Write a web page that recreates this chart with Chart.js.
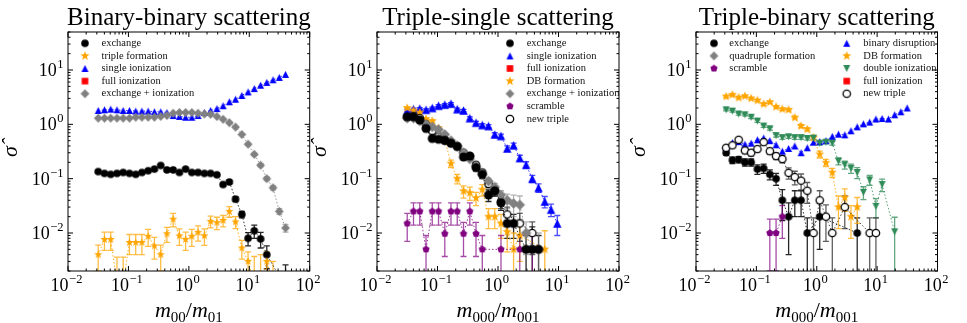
<!DOCTYPE html>
<html>
<head>
<meta charset="utf-8">
<title>Scattering cross sections</title>
<script src="https://cdn.jsdelivr.net/npm/chart.js@4.4.1/dist/chart.umd.min.js"></script>
<style>
  html, body { margin: 0; padding: 0; background: #fff; }
  #wrap { position: relative; width: 967px; height: 323px; overflow: hidden; }
  canvas { position: absolute; top: 0; }
</style>
</head>
<body>
<div id="wrap">
  <canvas id="bb" width="325" height="323" style="left:0px"></canvas>
  <canvas id="ts" width="325" height="323" style="left:310px"></canvas>
  <canvas id="tb" width="337" height="323" style="left:630px"></canvas>
</div>
<script>
const SERIF = "'Liberation Serif', 'DejaVu Serif', serif";

// mass ratio grid shared by every series
const massRatio = [0.0316, 0.0401, 0.0509, 0.0646, 0.0819, 0.104, 0.132, 0.167, 0.212, 0.269,
  0.342, 0.433, 0.550, 0.697, 0.884, 1.12, 1.42, 1.81, 2.29, 2.91,
  3.69, 4.68, 5.93, 7.53, 9.55, 12.1, 15.4, 19.5, 24.7, 31.4, 39.8];
const xDecades = [-2, -1, 0, 1, 2];
const yDecades = [-2, -1, 0, 1];

// binary-binary
const bbExchange = [0.135, 0.125, 0.12, 0.125, 0.13, 0.125, 0.12, 0.13, 0.14, 0.15, 0.175, 0.145, 0.145, 0.13, 0.15, 0.13, 0.13, 0.125, 0.125, 0.118, 0.078, 0.087, 0.042, 0.022, 0.008, 0.011, 0.0078, 0.004, null, null, 0.001];
const bbExchangeErr = [0.006, 0.006, 0.006, 0.006, 0.006, 0.006, 0.006, 0.006, 0.006, 0.007, 0.008, 0.007, 0.007, 0.006, 0.007, 0.006, 0.006, 0.006, 0.006, 0.006, 0.005, 0.006, 0.004, 0.003, 0.0022, 0.003, 0.0025, 0.0018, null, null, 0.0016];
const bbTriple = [0.004, 0.0076, 0.0076, 0.0012, 0.0012, 0.0067, 0.0067, 0.0067, 0.0087, 0.0058, 0.004, 0.0097, 0.018, 0.0089, 0.0076, 0.0087, 0.0103, 0.0089, 0.0164, 0.0155, 0.017, 0.025, 0.016, 0.0053, 0.003, 0.0012, 0.0012, 0.003, 0.0012, null, null];
const bbTripleErr = [0.002, 0.0028, 0.0028, 0.0024, 0.0024, 0.0027, 0.0027, 0.0027, 0.003, 0.0025, 0.002, 0.003, 0.005, 0.003, 0.0028, 0.003, 0.0032, 0.003, 0.004, 0.004, 0.004, 0.0055, 0.004, 0.002, 0.0015, 0.0025, 0.0028, 0.0015, 0.0018, null, null];
const bbSingleIon = [1.8, 1.85, 1.9, 1.85, 1.8, 1.8, 1.75, 1.75, 1.75, 1.7, 1.7, 1.65, 1.45, 1.4, 1.35, 1.35, 1.45, 1.65, 1.8, 1.95, 2.2, 2.6, 2.9, 3.4, 3.95, 4.55, 5.25, 5.9, 6.6, 7.3, 8.3];
const bbFullIon = [];
const bbExIon = [1.3, 1.3, 1.3, 1.3, 1.3, 1.3, 1.35, 1.35, 1.35, 1.35, 1.4, 1.45, 1.6, 1.65, 1.65, 1.65, 1.6, 1.55, 1.53, 1.39, 1.24, 1.07, 0.89, 0.65, 0.43, 0.28, 0.177, 0.10, 0.068, 0.025, 0.0124];
const bbExIonErr = [null, null, null, null, null, null, null, null, null, null, null, null, null, null, null, null, null, null, null, null, null, null, null, null, 0.02, 0.015, 0.012, 0.008, 0.006, 0.003, 0.002];

// triple-single
const tsExchange = [1.38, 1.38, 1.2, 0.84, 0.55, 0.53, 0.51, 0.45, 0.39, 0.25, 0.26, 0.16, 0.12, 0.05, 0.06, 0.036, 0.015, 0.015, null, 0.005, 0.005, 0.005];
const tsExchangeErr = [0.05, 0.05, 0.05, 0.04, 0.03, 0.03, 0.03, 0.03, 0.03, 0.02, 0.02, 0.02, 0.02, 0.012, 0.012, 0.01, 0.007, 0.007, null, 0.004, 0.008, 0.004];
const tsSingleIon = [1.8, 1.9, 1.95, 1.85, 2.0, 2.2, 2.3, 2.4, 1.9, 1.8, 1.3, 1.07, 0.97, 0.93, 0.65, 0.61, 0.36, 0.41, 0.24, 0.18, 0.1, 0.068, 0.038, 0.027, 0.015];
const tsSingleIonErr = [0.08, 0.08, 0.08, 0.08, 0.08, 0.09, 0.09, 0.1, 0.08, 0.08, 0.07, 0.06, 0.06, 0.06, 0.05, 0.05, 0.04, 0.04, 0.03, 0.025, 0.015, 0.012, 0.009, 0.007, 0.006];
const tsFullIon = [];
const tsDB = [2.0, 1.8, 1.65, 1.25, 1.15, 0.85, 0.53, 0.19, 0.1, 0.059, 0.055, 0.044, 0.063, 0.02, 0.02, 0.015, 0.0105, 0.005, 0.009, null, null, null, 0.005];
const tsDBErr = [0.08, 0.07, 0.07, 0.06, 0.06, 0.05, 0.04, 0.03, 0.02, 0.015, 0.015, 0.012, 0.015, 0.008, 0.008, 0.007, 0.006, 0.005, 0.006, null, null, null, 0.006];
const tsExIon = [1.3, 1.3, 1.15, 1.0, 0.9, 0.8, 0.65, 0.5, 0.4, 0.3, 0.23, 0.17, 0.12, 0.09, 0.07, 0.05, 0.04, 0.035, 0.033, 0.01, 0.005, 0.005];
const tsExIonErr = [0.05, 0.05, 0.05, 0.04, 0.04, 0.04, 0.03, 0.03, 0.03, 0.02, 0.02, 0.02, 0.015, 0.012, 0.012, 0.01, 0.012, 0.015, 0.015, 0.006, 0.005, 0.005];
const tsScramble = [0.015, 0.025, 0.025, 0.005, 0.025, 0.025, 0.0097, 0.025, 0.025, 0.0097, 0.025, 0.0097, 0.005, null, null, 0.005, null, null, 0.005, null, 0.005];
const tsScrambleErr = [0.008, 0.011, 0.011, 0.004, 0.011, 0.011, 0.006, 0.011, 0.011, 0.006, 0.011, 0.006, 0.004, null, null, 0.004, null, null, 0.004, null, 0.004];
const tsNewTriple = [1.35, 1.4, 1.3, 1.0, 0.75, 0.6, 0.5, 0.45, 0.4, 0.3, 0.26, 0.18, 0.13, 0.08, 0.06, 0.038, 0.022, null, 0.015, null, 0.01];
const tsNewTripleErr = [0.05, 0.05, 0.05, 0.04, 0.03, 0.03, 0.03, 0.03, 0.03, 0.02, 0.02, 0.02, 0.015, 0.012, 0.012, 0.01, 0.008, null, 0.008, null, 0.006];

// triple-binary
const tbExchange = [0.3, 0.22, 0.225, 0.2, 0.2, 0.15, 0.155, 0.12, 0.1, 0.04, 0.02, 0.04, 0.04, 0.01, null, 0.02, null, null, null, null, null, 0.01];
const tbExchangeErr = [0.03, 0.03, 0.03, 0.03, 0.03, 0.03, 0.03, 0.025, 0.025, 0.023, 0.016, 0.02, 0.02, 0.009, null, 0.015, null, null, null, null, null, 0.009];
const tbQuad = [];
const tbScramble = [null, null, null, null, null, null, null, 0.01, 0.01, 0.02];
const tbScrambleErr = [null, null, null, null, null, null, null, 0.008, 0.008, 0.012];
const tbBinaryDis = [0.38, 0.46, 0.48, 0.43, 0.45, 0.52, 0.56, 0.5, 0.42, 0.32, 0.36, 0.4, 0.3, 0.37, 0.47, 0.48, 0.5, 0.6, 0.66, 0.64, 0.76, 0.9, 1.02, 1.1, 1.25, 1.28, 1.25, 1.5, 1.7, 2.0];
const tbDB = [3.25, 3.5, 3.1, 3.3, 3.0, 2.75, 2.35, 2.55, 2.1, 1.9, 1.85, 1.33, 0.93, 0.81, 0.57, 0.28, 0.196, 0.13, 0.03, 0.045, 0.02, 0.03];
const tbDBErr = [0.15, 0.15, 0.15, 0.15, 0.14, 0.13, 0.12, 0.12, 0.1, 0.09, 0.09, 0.07, 0.06, 0.05, 0.04, 0.04, 0.03, 0.025, 0.018, 0.02, 0.012, 0.015];
const tbDoubleIon = [1.85, 1.75, 1.55, 1.5, 1.35, 1.15, 0.93, 0.83, 0.62, 0.57, 0.59, 0.57, 0.57, 0.55, 0.56, 0.45, 0.47, 0.45, 0.21, 0.18, 0.155, 0.13, 0.056, 0.095, 0.031, 0.078, null, 0.0105];
const tbDoubleIonErr = [0.08, 0.08, 0.07, 0.07, 0.07, 0.06, 0.05, 0.05, 0.04, 0.04, 0.04, 0.04, 0.04, 0.04, 0.04, 0.035, 0.035, 0.035, 0.03, 0.03, 0.03, 0.03, 0.015, 0.02, 0.012, 0.02, null, 0.009];
const tbFullIon = [];
const tbNewTriple = [0.37, 0.41, 0.52, 0.33, 0.3, 0.35, 0.47, 0.32, 0.26, 0.23, 0.128, 0.107, 0.092, 0.06, 0.01, 0.04, 0.02, 0.01, null, 0.03, null, null, null, 0.01, 0.01];
const tbNewTripleErr = [0.04, 0.04, 0.05, 0.04, 0.04, 0.04, 0.05, 0.04, 0.035, 0.035, 0.03, 0.03, 0.03, 0.025, 0.009, 0.02, 0.013, 0.009, null, 0.018, null, null, null, 0.009, 0.009];

const LOOK = {
  exchange:  { shape: 'circle', color: '#000000', r: 3.8, line: 'rgba(0,0,0,0.8)', err: 'rgba(0,0,0,0.85)' },
  newTriple: { shape: 'circle', color: '#000000', r: 3.7, hollow: true, line: 'rgba(0,0,0,0.7)', err: 'rgba(40,40,40,0.75)' },
  single:    { shape: 'triangle', color: '#0000ff', r: 3.5, line: 'rgba(0,0,255,0.8)', err: 'rgba(0,0,255,0.7)' },
  doubleIon: { shape: 'triangleDown', color: '#2e8b57', r: 3.5, line: 'rgba(46,139,87,0.8)', err: 'rgba(46,139,87,0.75)' },
  fullIon:   { shape: 'square', color: '#ff0000', r: 3.3, line: '#ff0000', err: '#ff0000' },
  exIon:     { shape: 'diamond', color: '#808080', r: 4.4, line: 'rgba(128,128,128,0.8)', err: 'rgba(128,128,128,0.6)' },
  star:      { shape: 'star', color: '#ffa500', r: 4.8, line: 'rgba(255,165,0,0.85)', err: 'rgba(255,165,0,0.75)' },
  scramble:  { shape: 'pentagon', color: '#800080', r: 3.8, line: 'rgba(128,0,128,0.8)', err: 'rgba(128,0,128,0.7)' }
};

function marker(shape, color, r, hollow) {
  const s = Math.ceil(2 * r + 4);
  const c = document.createElement('canvas');
  c.width = s; c.height = s;
  const g = c.getContext('2d');
  const m = s / 2;
  const poly = (n, start, inner) => {
    const k = inner ? 2 * n : n;
    for (let i = 0; i < k; i++) {
      const rr = inner && i % 2 ? r * inner : r;
      const t = (start + i * 360 / k) * Math.PI / 180;
      const px = m + rr * Math.cos(t), py = m + rr * Math.sin(t);
      if (i) g.lineTo(px, py); else g.moveTo(px, py);
    }
    g.closePath();
  };
  g.beginPath();
  if (shape === 'circle') g.arc(m, m, r, 0, Math.PI * 2);
  else if (shape === 'square') g.rect(m - r, m - r, 2 * r, 2 * r);
  else if (shape === 'triangle') { g.moveTo(m, m - r); g.lineTo(m + r, m + r); g.lineTo(m - r, m + r); g.closePath(); }
  else if (shape === 'triangleDown') { g.moveTo(m, m + r); g.lineTo(m + r, m - r); g.lineTo(m - r, m - r); g.closePath(); }
  else if (shape === 'diamond') poly(4, -90);
  else if (shape === 'pentagon') poly(5, -90);
  else if (shape === 'star') poly(5, -90, 0.42);
  if (hollow) {
    g.fillStyle = '#fff'; g.fill();
    g.lineWidth = 1.3; g.strokeStyle = color; g.stroke();
  } else {
    g.fillStyle = color; g.fill();
  }
  return c;
}

function powLabel(ctx, exp, x, y, align) {
  const base = '10';
  const sup = exp < 0 ? '\u2212' + (-exp) : String(exp);
  ctx.font = `18px ${SERIF}`;
  const wb = ctx.measureText(base).width;
  ctx.font = `12.5px ${SERIF}`;
  const ws = ctx.measureText(sup).width;
  const w = wb + ws + 0.5;
  const left = align === 'right' ? x - w : x - w / 2;
  ctx.font = `18px ${SERIF}`;
  ctx.fillText(base, left, y);
  ctx.font = `12.5px ${SERIF}`;
  ctx.fillText(sup, left + wb + 0.5, y - 8);
}

function richText(ctx, parts, cx, y) {
  const fonts = { it: `italic 22px ${SERIF}`, sub: `15px ${SERIF}`, rm: `22px ${SERIF}` };
  let w = 0;
  parts.forEach(([t, k]) => { ctx.font = fonts[k]; w += ctx.measureText(t).width; });
  let xx = cx - w / 2;
  parts.forEach(([t, k]) => {
    ctx.font = fonts[k];
    ctx.fillText(t, xx, y + (k === 'sub' ? 4.5 : 0));
    xx += ctx.measureText(t).width;
  });
}

function decoration(cfg) {
  return {
    id: 'decor',
    beforeDatasetsDraw(chart) {
      const { ctx, chartArea: a, scales: { y } } = chart;
      ctx.save();
      ctx.beginPath(); ctx.rect(a.left, a.top, a.width, a.height); ctx.clip();
      ctx.lineWidth = 1.3;
      chart.data.datasets.forEach((ds, di) => {
        const pts = chart.getDatasetMeta(di).data;
        ctx.strokeStyle = ds.errColor;
        ds.data.forEach((d, k) => {
          const e = ds.errors[k];
          if (d.y == null || !e || !pts[k]) return;
          const px = pts[k].x;
          const top = y.getPixelForValue(d.y + e);
          const bot = d.y - e > 0 ? y.getPixelForValue(d.y - e) : a.bottom + 10;
          ctx.beginPath();
          ctx.moveTo(px, top); ctx.lineTo(px, bot);
          ctx.moveTo(px - 3, top); ctx.lineTo(px + 3, top);
          ctx.moveTo(px - 3, bot); ctx.lineTo(px + 3, bot);
          ctx.stroke();
        });
      });
      ctx.restore();
    },
    afterDraw(chart) {
      const { ctx, chartArea: a, scales: { x, y } } = chart;
      ctx.save();
      // frame and inward ticks
      ctx.strokeStyle = '#000';
      ctx.lineWidth = 1;
      ctx.strokeRect(a.left, a.top, a.width, a.height);
      ctx.beginPath();
      [[x, -2, 2], [y, -3, 1]].forEach(([sc, e0, e1]) => {
        for (let e = e0; e <= e1; e++) {
          for (let m = 1; m <= 9; m++) {
            const v = m * Math.pow(10, e);
            if (v < sc.min * 0.999 || v > sc.max * 1.001) continue;
            const p = sc.getPixelForValue(v);
            const len = m === 1 ? 5 : 2.5;
            if (sc === x) {
              ctx.moveTo(p, a.bottom); ctx.lineTo(p, a.bottom - len);
              ctx.moveTo(p, a.top); ctx.lineTo(p, a.top + len);
            } else {
              ctx.moveTo(a.left, p); ctx.lineTo(a.left + len, p);
              ctx.moveTo(a.right, p); ctx.lineTo(a.right - len, p);
            }
          }
        }
      });
      ctx.stroke();

      // tick labels
      ctx.fillStyle = '#000';
      ctx.textAlign = 'left';
      ctx.textBaseline = 'alphabetic';
      xDecades.forEach(e => powLabel(ctx, e, x.getPixelForValue(Math.pow(10, e)) - 1.5, a.bottom + 19.5, 'center'));
      yDecades.forEach(e => powLabel(ctx, e, a.left - 4.5, y.getPixelForValue(Math.pow(10, e)) + 6, 'right'));

      // axis titles and panel title
      richText(ctx, cfg.xTitle, (a.left + a.right) / 2, a.bottom + 46);
      ctx.save();
      ctx.translate(a.left - 57, (a.top + a.bottom) / 2);
      ctx.rotate(-Math.PI / 2);
      ctx.textAlign = 'center';
      ctx.textBaseline = 'middle';
      ctx.font = `italic 22px ${SERIF}`;
      ctx.fillText('\u03C3\u0302', 0, 0);
      ctx.restore();
      ctx.textAlign = 'center';
      ctx.font = `25px ${SERIF}`;
      ctx.fillText(cfg.title, (a.left + a.right) / 2, a.top - 7);

      // legend inside the axes
      ctx.textAlign = 'left';
      ctx.textBaseline = 'middle';
      ctx.font = `10.5px ${SERIF}`;
      ctx.fillStyle = '#111';
      cfg.legend.forEach(col => {
        col.labels.forEach((label, k) => {
          const ds = chart.data.datasets.find(d => d.label === label);
          const yy = a.top + col.top + k * 12.6;
          const img = ds.legendMark;
          ctx.drawImage(img, a.left + col.mx - img.width / 2, yy - img.height / 2);
          ctx.fillText(label, a.left + col.tx, yy);
        });
      });
      ctx.restore();
    }
  };
}

function panel(id, cfg) {
  const datasets = cfg.series.map((s, i) => ({
    label: s.label,
    data: s.values.length ? massRatio.map((x, k) => ({ x, y: s.values[k] ?? null })) : [],
    errors: s.errors || [],
    errColor: s.look.err,
    pointStyle: marker(s.look.shape, s.look.color, s.look.r * (s.scale || cfg.markerScale), s.look.hollow),
    legendMark: marker(s.look.shape, s.look.color, s.look.r, s.look.hollow),
    pointRadius: 4,
    showLine: true,
    spanGaps: true,
    borderColor: s.look.line,
    borderWidth: 1,
    borderDash: [1.5, 2],
    order: s.order ?? cfg.series.length - i
  }));
  return new Chart(document.getElementById(id), {
    type: 'scatter',
    data: { datasets },
    options: {
      responsive: false,
      animation: false,
      devicePixelRatio: 1,
      events: [],
      layout: { padding: { top: 32, right: cfg.rightPad, left: 0, bottom: 0 } },
      plugins: { legend: { display: false }, tooltip: { enabled: false } },
      scales: {
        x: {
          type: 'logarithmic', min: 0.01, max: 100,
          grid: { display: false, drawTicks: false }, border: { display: false },
          ticks: { display: false },
          afterFit: sc => { sc.height = 52; }
        },
        y: {
          type: 'logarithmic', min: 0.002, max: 50,
          grid: { display: false, drawTicks: false }, border: { display: false },
          ticks: { display: false },
          afterFit: sc => { sc.width = cfg.yWidth; }
        }
      }
    },
    plugins: [decoration(cfg)]
  });
}

panel('bb', {
  title: 'Binary-binary scattering',
  xTitle: [['m', 'it'], ['00', 'sub'], ['/', 'rm'], ['m', 'it'], ['01', 'sub']],
  yWidth: 68, rightPad: 15.3, markerScale: 1,
  series: [
    { label: 'exchange', values: bbExchange, errors: bbExchangeErr, look: LOOK.exchange },
    { label: 'triple formation', values: bbTriple, errors: bbTripleErr, look: LOOK.star, scale: 0.9 },
    { label: 'single ionization', values: bbSingleIon, look: LOOK.single },
    { label: 'full ionization', values: bbFullIon, look: LOOK.fullIon },
    { label: 'exchange + ionization', values: bbExIon, errors: bbExIonErr, look: LOOK.exIon }
  ],
  legend: [{ mx: 17, tx: 33.5, top: 11.3,
    labels: ['exchange', 'triple formation', 'single ionization', 'full ionization', 'exchange + ionization'] }]
});

panel('ts', {
  title: 'Triple-single scattering',
  xTitle: [['m', 'it'], ['000', 'sub'], ['/', 'rm'], ['m', 'it'], ['001', 'sub']],
  yWidth: 67, rightPad: 16, markerScale: 1.2,
  series: [
    { label: 'exchange', values: tsExchange, errors: tsExchangeErr, look: LOOK.exchange, order: 2 },
    { label: 'single ionization', values: tsSingleIon, errors: tsSingleIonErr, look: LOOK.single },
    { label: 'full ionization', values: tsFullIon, look: LOOK.fullIon },
    { label: 'DB formation', values: tsDB, errors: tsDBErr, look: LOOK.star, scale: 1.0 },
    { label: 'exchange + ionization', values: tsExIon, errors: tsExIonErr, look: LOOK.exIon },
    { label: 'scramble', values: tsScramble, errors: tsScrambleErr, look: LOOK.scramble, scale: 1.0 },
    { label: 'new triple', values: tsNewTriple, errors: tsNewTripleErr, look: LOOK.newTriple, scale: 1.0, order: 3 }
  ],
  legend: [{ mx: 133, tx: 149.7, top: 11.3,
    labels: ['exchange', 'single ionization', 'full ionization', 'DB formation', 'exchange + ionization', 'scramble', 'new triple'] }]
});

panel('tb', {
  title: 'Triple-binary scattering',
  xTitle: [['m', 'it'], ['000', 'sub'], ['/', 'rm'], ['m', 'it'], ['001', 'sub']],
  yWidth: 66, rightPad: 29.5, markerScale: 1,
  series: [
    { label: 'exchange', values: tbExchange, errors: tbExchangeErr, look: LOOK.exchange },
    { label: 'quadruple formation', values: tbQuad, look: LOOK.exIon },
    { label: 'scramble', values: tbScramble, errors: tbScrambleErr, look: LOOK.scramble },
    { label: 'binary disruption', values: tbBinaryDis, look: LOOK.single },
    { label: 'DB formation', values: tbDB, errors: tbDBErr, look: LOOK.star },
    { label: 'double ionization', values: tbDoubleIon, errors: tbDoubleIonErr, look: LOOK.doubleIon },
    { label: 'full ionization', values: tbFullIon, look: LOOK.fullIon },
    { label: 'new triple', values: tbNewTriple, errors: tbNewTripleErr, look: LOOK.newTriple }
  ],
  legend: [
    { mx: 18, tx: 33.3, top: 11.3, labels: ['exchange', 'quadruple formation', 'scramble'] },
    { mx: 150.7, tx: 167.3, top: 11.3, labels: ['binary disruption', 'DB formation', 'double ionization', 'full ionization', 'new triple'] }
  ]
});
</script>
</body>
</html>
